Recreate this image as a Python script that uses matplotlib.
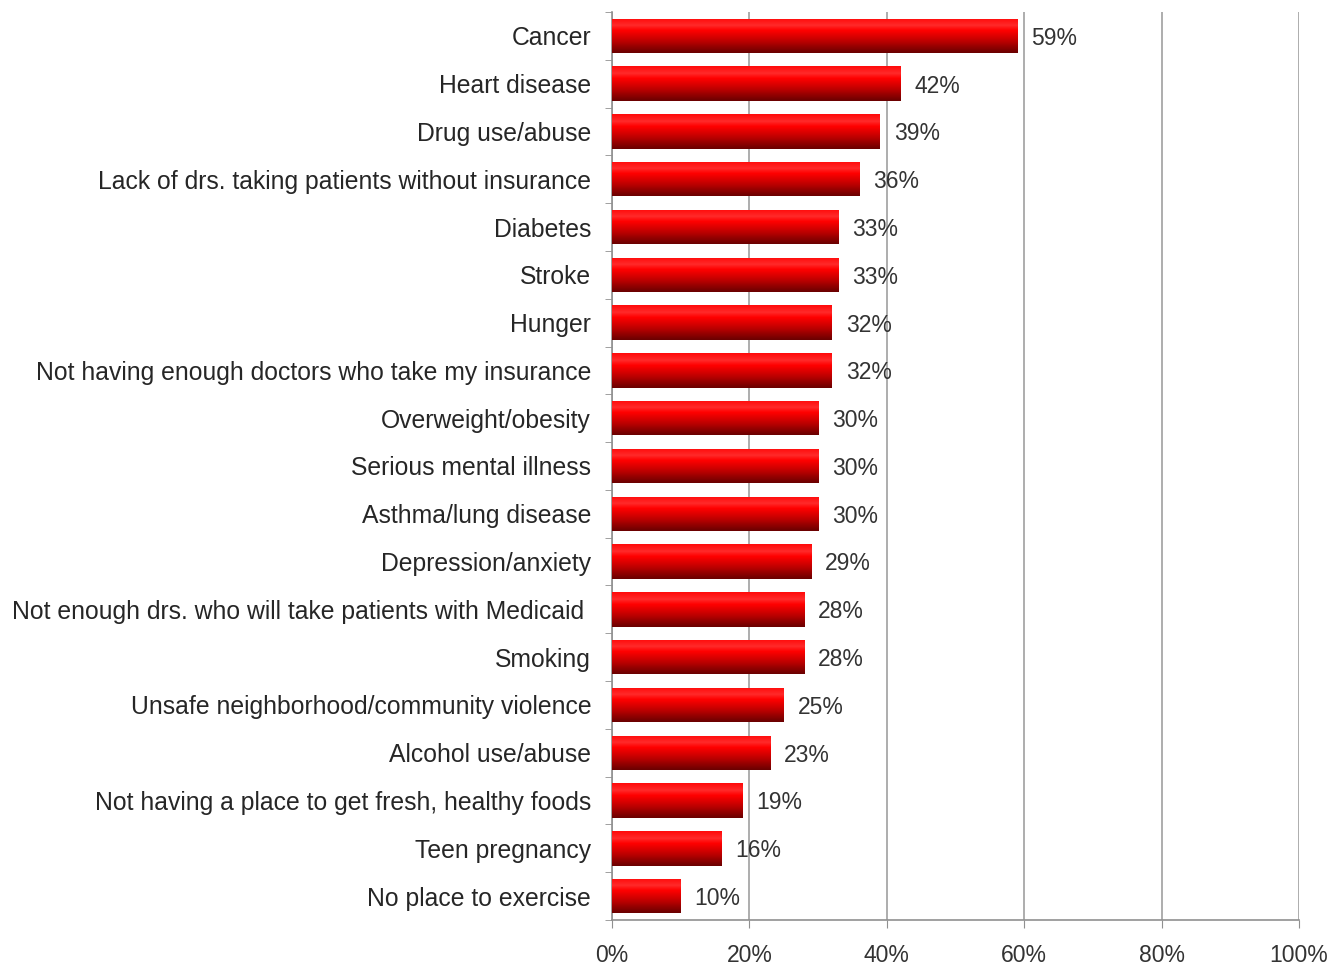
import numpy as np
import matplotlib.pyplot as plt
from matplotlib.colors import LinearSegmentedColormap

categories = [
    "Cancer",
    "Heart disease",
    "Drug use/abuse",
    "Lack of drs. taking patients without insurance",
    "Diabetes",
    "Stroke",
    "Hunger",
    "Not having enough doctors who take my insurance",
    "Overweight/obesity",
    "Serious mental illness",
    "Asthma/lung disease",
    "Depression/anxiety",
    "Not enough drs. who will take patients with Medicaid ",
    "Smoking",
    "Unsafe neighborhood/community violence",
    "Alcohol use/abuse",
    "Not having a place to get fresh, healthy foods",
    "Teen pregnancy",
    "No place to exercise",
]
values = [59, 42, 39, 36, 33, 33, 32, 32, 30, 30, 30, 29, 28, 28, 25, 23, 19, 16, 10]
xticks = [0, 20, 40, 60, 80, 100]

plt.rcParams['font.family'] = ['Liberation Sans', 'DejaVu Sans']

fig = plt.figure(figsize=(13.31, 9.67), dpi=100)
ax = fig.add_axes([0.4598, 0.0486, 0.5162, 0.939])

n = len(categories)
ypos = np.arange(n)[::-1]
bar_h = 0.72

# vertical red gradient: bright top, dark bottom
grad_cmap = LinearSegmentedColormap.from_list(
    "redshade",
    [(0.0, "#6a0000"), (0.35, "#c00000"), (0.65, "#ff0000"),
     (0.8, "#ff2a2a"), (1.0, "#ff0a0a")])
grad = np.linspace(0, 1, 64).reshape(-1, 1)

bars = ax.barh(ypos, values, height=bar_h, color="none", edgecolor="none", zorder=3)
for rect, v in zip(bars, values):
    x0, y0 = rect.get_x(), rect.get_y()
    w, h = rect.get_width(), rect.get_height()
    im = ax.imshow(grad, cmap=grad_cmap, aspect="auto", origin="lower",
                   extent=(x0, x0 + w, y0, y0 + h), zorder=3, interpolation="bilinear")
    im.set_clip_path(rect)
    ax.text(v + 2.0, y0 + h / 2 - 0.05, f"{v}%", va="center", ha="left",
            fontsize=16.5, color="#333333", zorder=4)

ax.set_xlim(0, 100)
ax.set_ylim(-0.5, n - 0.5)
ax.set_xticks(xticks)
ax.set_xticklabels([f"{t}%" for t in xticks], fontsize=16.5, color="#333333")
ax.set_yticks(ypos)
ax.set_yticklabels(categories, fontsize=17.8, color="#262626")
ax.set_yticks(np.arange(n + 1) - 0.5, minor=True)

ax.tick_params(axis="y", which="major", length=0, pad=15)
ax.tick_params(axis="y", which="minor", length=5, color="#909090", direction="out")
ax.tick_params(axis="x", length=6, color="#909090", pad=11, direction="out")

ax.grid(axis="x", color="#a0a0a0", linewidth=1.2, zorder=0)
ax.set_axisbelow(True)
for side in ["top", "right"]:
    ax.spines[side].set_visible(False)
for side in ["left", "bottom"]:
    ax.spines[side].set_color("#909090")
    ax.spines[side].set_linewidth(1.2)

fig.savefig("out.png", dpi=100)
